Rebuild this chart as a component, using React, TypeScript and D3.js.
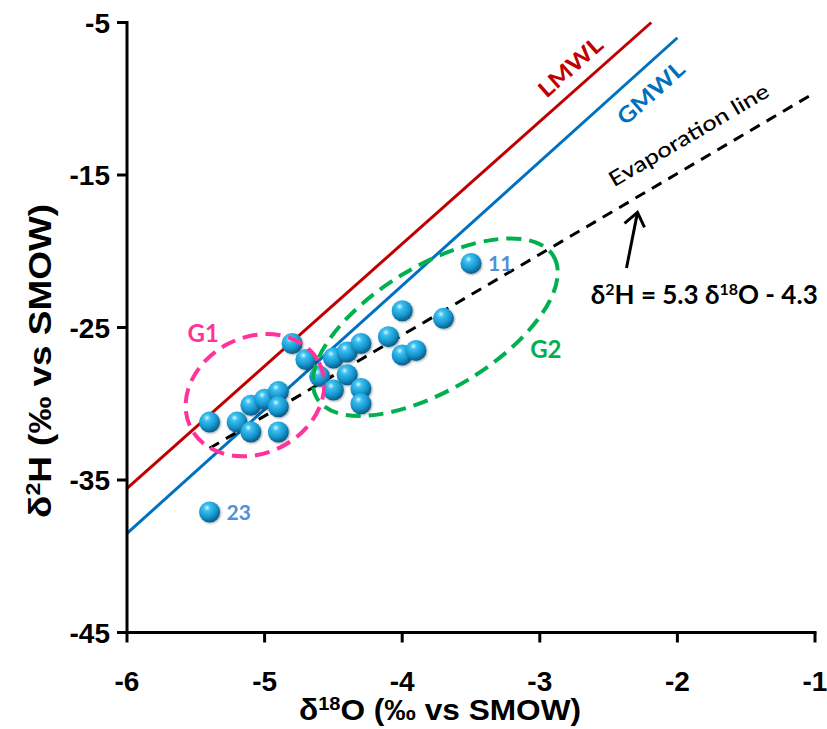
import React from "react";
import * as d3 from "d3";

const xTicks = [-6, -5, -4, -3, -2, -1];
const yTicks = [-5, -15, -25, -35, -45];

const d18O = [-5.4, -5.2, -5.1, -5.1, -5.0, -4.9, -4.9, -4.9, -4.8, -4.7, -4.6, -4.5, -4.5, -4.4, -4.4, -4.3, -4.3, -4.3, -4.1, -4.0, -4.0, -3.9, -3.7, -3.5, -5.4];
const d2H = [-31.2, -31.2, -31.85, -30.1, -29.7, -29.2, -30.2, -31.85, -26.05, -27.1, -28.2, -27.0, -29.1, -26.6, -28.1, -26.05, -29.0, -30.0, -25.6, -23.9, -26.8, -26.5, -24.4, -20.8, -37.1];
const pointLabels = [
  { idx: 23, text: "11" },
  { idx: 24, text: "23" },
];

const lmwl = [[-6, -35.55], [-2.19, -5]];
const gmwl = [[-6, -38.5], [-2, -6]];
const evap = [[-5.4, -32.92], [-1, -9.6]];

const groups = [
  { name: "G1", cx: -5.07, cy: -29.44, color: "#FF3399", labelX: -5.56, labelY: -25.95 },
  { name: "G2", cx: -3.76, cy: -24.98, color: "#00B050", labelX: -3.07, labelY: -27.0 },
];

const W = 827;
const H = 729;

export default function App() {
  const x = d3.scaleLinear().domain([-6, -1]).range([127, 815]);
  const y = d3.scaleLinear().domain([-45, -5]).range([632.5, 22.5]);
  const line = d3
    .line<number[]>()
    .x((d) => x(d[0]))
    .y((d) => y(d[1]));

  const axisFont = "'Liberation Sans', Arial, sans-serif";
  const annFont = "Lato, 'Open Sans', sans-serif";
  const angle = (pts: number[][]) =>
    (Math.atan2(y(pts[1][1]) - y(pts[0][1]), x(pts[1][0]) - x(pts[0][0])) * 180) / Math.PI;

  const arrowTail = [-2.37, -21.1];
  const arrowHead = [-2.29, -17.45];
  const ah = { x: x(arrowHead[0]), y: y(arrowHead[1]) };

  return (
    <div style={{ position: "absolute", left: 0, top: 0 }}>
      <svg width={W} height={H} viewBox={`0 0 ${W} ${H}`} style={{ display: "block", background: "#fff" }}>
        <defs>
          <radialGradient id="sphere" cx="38%" cy="30%" r="70%">
            <stop offset="0%" stopColor="#d8f6ff" />
            <stop offset="22%" stopColor="#3cc0f0" />
            <stop offset="65%" stopColor="#1596cf" />
            <stop offset="100%" stopColor="#0a5d88" />
          </radialGradient>
          <filter id="soft" x="-30%" y="-30%" width="160%" height="160%">
            <feGaussianBlur in="SourceAlpha" stdDeviation="1.2" />
            <feOffset dx="0.5" dy="1" result="b" />
            <feComponentTransfer>
              <feFuncA type="linear" slope="0.35" />
            </feComponentTransfer>
            <feMerge>
              <feMergeNode />
              <feMergeNode in="SourceGraphic" />
            </feMerge>
          </filter>
        </defs>

        {/* lines */}
        <path d={line(lmwl) || ""} stroke="#C00000" strokeWidth={3} fill="none" />
        <path d={line(gmwl) || ""} stroke="#0070C0" strokeWidth={3} fill="none" />
        <path d={line(evap) || ""} stroke="#000" strokeWidth={3} fill="none" strokeDasharray="11 8" />

        {/* points */}
        {d18O.map((v, i) => (
          <circle key={i} cx={x(v)} cy={y(d2H[i])} r={10.5} fill="url(#sphere)" filter="url(#soft)" />
        ))}

        {/* group ellipses */}
        <ellipse
          cx={x(groups[0].cx)}
          cy={y(groups[0].cy)}
          rx={72}
          ry={58}
          transform={`rotate(-27 ${x(groups[0].cx)} ${y(groups[0].cy)})`}
          fill="none"
          stroke={groups[0].color}
          strokeWidth={4}
          strokeDasharray="15 8"
        />
        <ellipse
          cx={x(groups[1].cx)}
          cy={y(groups[1].cy)}
          rx={138}
          ry={62}
          transform={`rotate(-31 ${x(groups[1].cx)} ${y(groups[1].cy)})`}
          fill="none"
          stroke={groups[1].color}
          strokeWidth={4}
          strokeDasharray="15 8"
        />
        {groups.map((g) => (
          <text key={g.name} x={x(g.labelX)} y={y(g.labelY)} fill={g.color} fontFamily={annFont} fontWeight={700} fontSize={24}>
            {g.name}
          </text>
        ))}

        {/* point labels */}
        {pointLabels.map((p) => (
          <text
            key={p.text}
            x={x(d18O[p.idx]) + 17}
            y={y(d2H[p.idx]) + 8}
            fill="#558ED5"
            fontFamily={annFont}
            fontWeight={700}
            fontSize={21}
          >
            {p.text}
          </text>
        ))}

        {/* line labels */}
        <text
          transform={`translate(${x(-2.74)},${y(-8.3)}) rotate(${angle(lmwl)})`}
          fill="#C00000"
          fontFamily={annFont}
          fontWeight={700}
          fontSize={22}
          textAnchor="middle"
          textLength={78}
          lengthAdjust="spacingAndGlyphs"
        >
          LMWL
        </text>
        <text
          transform={`translate(${x(-2.155)},${y(-10.0)}) rotate(${angle(gmwl)})`}
          fill="#0070C0"
          fontFamily={annFont}
          fontWeight={700}
          fontSize={22}
          textAnchor="middle"
          textLength={82}
          lengthAdjust="spacingAndGlyphs"
        >
          GMWL
        </text>
        <text
          transform={`translate(${x(-1.89)},${y(-12.8)}) rotate(${angle(evap)})`}
          fill="#000"
          fontFamily={annFont}
          fontWeight={500}
          fontSize={21}
          textAnchor="middle"
          textLength={182}
          lengthAdjust="spacingAndGlyphs"
        >
          Evaporation line
        </text>

        {/* arrow */}
        <line x1={x(arrowTail[0])} y1={y(arrowTail[1])} x2={ah.x} y2={ah.y} stroke="#000" strokeWidth={3} />
        <path
          d={`M${ah.x - 13},${ah.y + 11} L${ah.x},${ah.y} L${ah.x + 7},${ah.y + 15}`}
          stroke="#000"
          strokeWidth={3}
          fill="none"
        />
        <text x={x(-2.63)} y={y(-23.45)} fontFamily={annFont} fontWeight={700} fontSize={26} textAnchor="start" fill="#000">
          δ<tspan dy={-9} fontSize={16}>2</tspan>
          <tspan dy={9}>H = 5.3 δ</tspan>
          <tspan dy={-9} fontSize={16}>18</tspan>
          <tspan dy={9}>O - 4.3</tspan>
        </text>

        {/* axes */}
        <line x1={127} y1={y(-5) - 1.5} x2={127} y2={y(-45) + 1.5} stroke="#000" strokeWidth={3} />
        <line x1={x(-6) - 10} y1={y(-45)} x2={x(-1) + 1.5} y2={y(-45)} stroke="#000" strokeWidth={3} />
        {yTicks.map((t) => (
          <g key={t}>
            <line x1={x(-6) - 10} x2={x(-6)} y1={y(t)} y2={y(t)} stroke="#000" strokeWidth={3} />
            <text x={110} y={y(t) + 10} textAnchor="end" fontFamily={axisFont} fontWeight={700} fontSize={28}>
              {t}
            </text>
          </g>
        ))}
        {xTicks.map((t) => (
          <g key={t}>
            <line x1={x(t)} x2={x(t)} y1={y(-45)} y2={y(-45) + 10} stroke="#000" strokeWidth={3} />
            <text x={x(t)} y={691} textAnchor="middle" fontFamily={axisFont} fontWeight={700} fontSize={28}>
              {t}
            </text>
          </g>
        ))}
        <text x={440} y={720} textAnchor="middle" fontFamily={axisFont} fontWeight={700} fontSize={30} textLength={282} lengthAdjust="spacingAndGlyphs">
          δ<tspan dy={-10} fontSize={19}>18</tspan>
          <tspan dy={10}>O (‰ vs SMOW)</tspan>
        </text>
        <text
          transform={`translate(51,361) rotate(-90)`}
          textAnchor="middle"
          fontFamily={axisFont}
          fontWeight={700}
          fontSize={32}
          textLength={314}
          lengthAdjust="spacingAndGlyphs"
        >
          δ<tspan dy={-11} fontSize={20}>2</tspan>
          <tspan dy={11}>H (‰ vs SMOW)</tspan>
        </text>
      </svg>
    </div>
  );
}
